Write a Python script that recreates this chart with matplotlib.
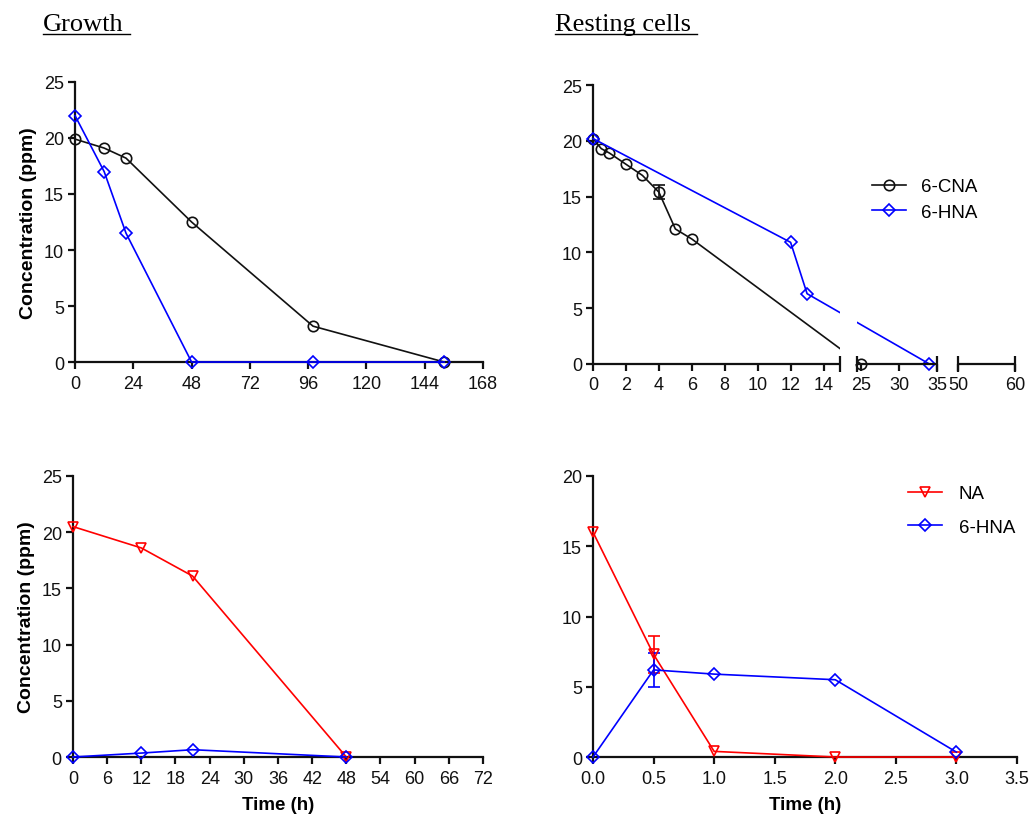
import numpy as np
import matplotlib
matplotlib.use("Agg")
import matplotlib.pyplot as plt
from matplotlib.lines import Line2D

plt.rcParams["font.family"] = ["Liberation Sans", "DejaVu Sans"]
plt.rcParams["font.size"] = 13

BLACK = "#111111"
BLUE = "#0000ff"
RED = "#ff0000"

# growth, 6-CNA / 6-HNA
grow_t = [0, 12, 21, 48, 98, 152]
grow_cna = [19.9, 19.1, 18.2, 12.5, 3.2, 0.0]
grow_hna = [22.0, 17.0, 11.5, 0.0, 0.0, 0.0]

# resting cells, 6-CNA / 6-HNA
rest_cna_t = [0, 0.5, 1, 2, 3, 4, 5, 6, 25]
rest_cna = [20.2, 19.3, 18.9, 17.9, 16.9, 15.4, 12.1, 11.2, 0.0]
rest_cna_err_t = [4]
rest_cna_err_v = [15.4]
rest_cna_err = [0.6]
rest_hna_t = [0, 12, 13, 34]
rest_hna = [20.2, 10.9, 6.3, 0.0]

# growth, NA / 6-HNA
grow2_t = [0, 12, 21, 48]
grow2_na = [20.5, 18.6, 16.1, 0.0]
grow2_hna = [0.0, 0.35, 0.65, 0.0]

# resting cells, NA / 6-HNA
rest2_t = [0, 0.5, 1, 2, 3]
rest2_na = [16.0, 7.3, 0.4, 0.0, 0.0]
rest2_hna = [0.0, 6.2, 5.9, 5.5, 0.35]
rest2_err_t = [0.5]
rest2_na_err = [1.3]
rest2_hna_err = [1.2]

# broken x axis of the resting-cells panel: data knots -> screen-ish units
brk_data = [0, 15, 24.5, 35, 50, 60]
brk_px = [0, 247, 264, 344, 365, 422]
brk_segments = [(0, 15), (24.5, 35), (50, 60)]


def style_axes(ax):
    for s in ["top", "right"]:
        ax.spines[s].set_visible(False)
    for s in ["left", "bottom"]:
        ax.spines[s].set_linewidth(1.6)
        ax.spines[s].set_color(BLACK)
    ax.tick_params(direction="out", length=5, width=1.6, colors=BLACK,
                   labelsize=13, pad=3)
    ax.tick_params(axis="x", pad=4)


def series(ax, x, y, color, marker, label=None, ms=7):
    ax.plot(x, y, color=color, lw=1.2, marker=marker, ms=ms, mfc="none",
            mec=color, mew=1.2, clip_on=False, zorder=4, label=label)


fig = plt.figure(figsize=(10.29, 8.2), dpi=100)

ax1 = fig.add_axes([0.0729, 0.5573, 0.3965, 0.3415])
ax2 = fig.add_axes([0.5763, 0.5549, 0.4101, 0.3402])
ax3 = fig.add_axes([0.0709, 0.0756, 0.3985, 0.3427])
ax4 = fig.add_axes([0.5763, 0.0756, 0.4120, 0.3427])

# --- top left
style_axes(ax1)
series(ax1, grow_t, grow_cna, BLACK, "o", ms=7.5)
series(ax1, grow_t, grow_hna, BLUE, "D", ms=6)
ax1.set_xlim(0, 168)
ax1.set_ylim(0, 25)
ax1.set_xticks(range(0, 169, 24))
ax1.set_yticks(range(0, 26, 5))
ax1.set_ylabel("Concentration (ppm)", fontsize=14, fontweight="bold", labelpad=5)

# --- top right, broken axis
style_axes(ax2)
ax2.set_xscale("function", functions=(lambda x: np.interp(x, brk_data, brk_px),
                                      lambda v: np.interp(v, brk_px, brk_data)))
ax2.set_xlim(0, 60)
ax2.set_ylim(0, 25)
ax2.spines["bottom"].set_visible(False)
ax2.errorbar(rest_cna_err_t, rest_cna_err_v, yerr=rest_cna_err, fmt="none",
             ecolor=BLACK, elinewidth=1.2, capsize=4, capthick=1.2, zorder=3)
series(ax2, rest_cna_t, rest_cna, BLACK, "o", "6-CNA", ms=7.5)
series(ax2, rest_hna_t, rest_hna, BLUE, "D", "6-HNA", ms=6)
for lo, hi in zip(brk_data[1:-1:2], brk_data[2::2]):
    ax2.axvspan(lo, hi, color="white", zorder=5, lw=0)
xt = ax2.get_xaxis_transform()
for lo, hi in brk_segments:
    ax2.plot([lo, hi], [0, 0], color=BLACK, lw=1.6, transform=xt,
             clip_on=False, zorder=6, solid_capstyle="butt")
ends = [e for seg in brk_segments for e in seg][1:]
ax2.plot(ends, [0] * len(ends), ls="none", marker="|", ms=11, mew=1.6,
         color=BLACK, transform=xt, clip_on=False, zorder=6)
ax2.set_xticks(list(range(0, 15, 2)) + [25, 30, 35, 50, 60])
ax2.set_yticks(range(0, 26, 5))
leg = ax2.legend(loc="upper left", bbox_to_anchor=(0.64, 0.70), frameon=False,
                 fontsize=13.5, handlelength=1.8, handletextpad=0.8,
                 labelspacing=0.45, borderpad=0)
leg.set_zorder(7)

# --- bottom left
style_axes(ax3)
series(ax3, grow2_t, grow2_na, RED, "v", ms=7.5)
series(ax3, grow2_t, grow2_hna, BLUE, "D", ms=6)
ax3.set_xlim(0, 72)
ax3.set_ylim(0, 25)
ax3.set_xticks(range(0, 73, 6))
ax3.set_yticks(range(0, 26, 5))
ax3.set_ylabel("Concentration (ppm)", fontsize=14, fontweight="bold", labelpad=5)
ax3.set_xlabel("Time (h)", fontsize=13.5, fontweight="bold", labelpad=7)

# --- bottom right
style_axes(ax4)
ax4.errorbar(rest2_err_t, [rest2_na[1]], yerr=rest2_na_err, fmt="none",
             ecolor=RED, elinewidth=1.2, capsize=4, capthick=1.2, zorder=3)
ax4.errorbar(rest2_err_t, [rest2_hna[1]], yerr=rest2_hna_err, fmt="none",
             ecolor=BLUE, elinewidth=1.2, capsize=4, capthick=1.2, zorder=3)
series(ax4, rest2_t, rest2_na, RED, "v", "NA", ms=7.5)
series(ax4, rest2_t, rest2_hna, BLUE, "D", "6-HNA", ms=6)
ax4.set_xlim(0, 3.5)
ax4.set_ylim(0, 20)
ax4.set_xticks(np.arange(0, 3.51, 0.5))
ax4.set_xticklabels([f"{v:.1f}" for v in np.arange(0, 3.51, 0.5)])
ax4.set_yticks(range(0, 21, 5))
ax4.set_xlabel("Time (h)", fontsize=13.5, fontweight="bold", labelpad=7)
ax4.legend(loc="upper left", bbox_to_anchor=(0.721, 1.0), frameon=False,
           fontsize=13.5, handlelength=1.8, handletextpad=0.9,
           labelspacing=0.85, borderpad=0)

# --- panel headings, underlined
fig.canvas.draw()
renderer = fig.canvas.get_renderer()
for txt, x in [("Growth", 43), ("Resting cells", 555)]:
    t = fig.text(x / 1029, 1 - 31 / 820, txt, family="Liberation Serif",
                 fontsize=19, ha="left", va="baseline")
    bb = t.get_window_extent(renderer)
    y = bb.y0 + 1
    fig.add_artist(Line2D([bb.x0 / 1029, (bb.x1 + 6) / 1029], [y / 820, y / 820],
                          color="black", lw=1.0))

fig.savefig("out.png", dpi=100)
